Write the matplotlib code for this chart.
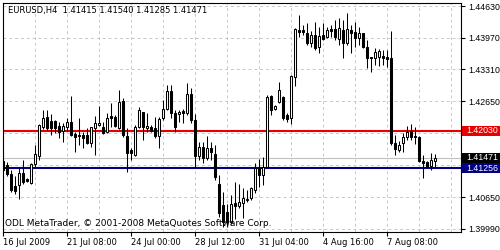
import matplotlib.pyplot as plt
from matplotlib.patches import Rectangle
import matplotlib.transforms as mtrans

# EURUSD H4 candles (open, high, low, close)
opens = [1.4140, 1.4132, 1.4113, 1.4088, 1.4091, 1.4116, 1.4103, 1.4095, 1.4134, 1.4151,
         1.4211, 1.4232, 1.4223, 1.4223, 1.4213, 1.4203, 1.4211, 1.4221, 1.4197, 1.4195,
         1.4195, 1.4195, 1.4178, 1.4209, 1.4215, 1.4211, 1.4201, 1.4234, 1.4232, 1.4209,
         1.4265, 1.4192, 1.4163, 1.4153, 1.4211, 1.4242, 1.4209, 1.4211, 1.4209, 1.4192,
         1.4230, 1.4249, 1.4286, 1.4240, 1.4238, 1.4245, 1.4240, 1.4280, 1.4226, 1.4151,
         1.4170, 1.4147, 1.4168, 1.4155, 1.4093, 1.4049, 1.4034, 1.4014, 1.4053, 1.4047,
         1.4053, 1.4059, 1.4063, 1.4080, 1.4126, 1.4111, 1.4128, 1.4276, 1.4249, 1.4263,
         1.4274, 1.4236, 1.4230, 1.4315, 1.4413, 1.4413, 1.4407, 1.4386, 1.4403, 1.4378,
         1.4403, 1.4399, 1.4415, 1.4415, 1.4395, 1.4413, 1.4386, 1.4413, 1.4409, 1.4397,
         1.4407, 1.4378, 1.4357, 1.4355, 1.4357, 1.4359, 1.4357, 1.4355, 1.4178, 1.4163,
         1.4178, 1.4190, 1.4203, 1.4192, 1.4190, 1.4140, 1.4138, 1.4130, 1.41415]
highs = [1.4159, 1.4138, 1.4122, 1.4109, 1.4128, 1.4143, 1.4105, 1.4136, 1.4174, 1.4217,
         1.4247, 1.4247, 1.4238, 1.4226, 1.4221, 1.4219, 1.4230, 1.4276, 1.4201, 1.4230,
         1.4201, 1.4209, 1.4211, 1.4234, 1.4255, 1.4221, 1.4240, 1.4261, 1.4236, 1.4288,
         1.4272, 1.4209, 1.4168, 1.4215, 1.4253, 1.4242, 1.4240, 1.4215, 1.4232, 1.4232,
         1.4267, 1.4298, 1.4298, 1.4247, 1.4247, 1.4249, 1.4303, 1.4292, 1.4238, 1.4180,
         1.4180, 1.4192, 1.4180, 1.4174, 1.4111, 1.4076, 1.4051, 1.4070, 1.4097, 1.4093,
         1.4084, 1.4080, 1.4086, 1.4136, 1.4145, 1.4149, 1.4278, 1.4278, 1.4257, 1.4305,
         1.4276, 1.4240, 1.4319, 1.4417, 1.4444, 1.4424, 1.4428, 1.4411, 1.4430, 1.4419,
         1.4428, 1.4419, 1.4424, 1.4434, 1.4438, 1.4434, 1.4448, 1.4424, 1.4430, 1.4419,
         1.4407, 1.4392, 1.4357, 1.4376, 1.4374, 1.4371, 1.4371, 1.4411, 1.4195, 1.4182,
         1.4199, 1.4213, 1.4217, 1.4211, 1.4192, 1.4153, 1.4140, 1.4157, 1.41540]
lows = [1.4118, 1.4109, 1.4076, 1.4072, 1.4061, 1.4093, 1.4097, 1.4093, 1.4128, 1.4143,
        1.4207, 1.4205, 1.4195, 1.4199, 1.4188, 1.4180, 1.4203, 1.4192, 1.4159, 1.4174,
        1.4168, 1.4176, 1.4170, 1.4153, 1.4213, 1.4197, 1.4199, 1.4211, 1.4211, 1.4207,
        1.4190, 1.4118, 1.4143, 1.4151, 1.4209, 1.4184, 1.4201, 1.4201, 1.4188, 1.4168,
        1.4226, 1.4247, 1.4230, 1.4201, 1.4221, 1.4219, 1.4236, 1.4219, 1.4128, 1.4143,
        1.4136, 1.4143, 1.4143, 1.4101, 1.4024, 1.4003, 1.4003, 1.4009, 1.4020, 1.4042,
        1.4022, 1.4055, 1.4059, 1.4074, 1.4086, 1.4091, 1.4126, 1.4236, 1.4247, 1.4261,
        1.4226, 1.4221, 1.4217, 1.4296, 1.4399, 1.4403, 1.4382, 1.4378, 1.4371, 1.4365,
        1.4392, 1.4397, 1.4399, 1.4392, 1.4382, 1.4355, 1.4382, 1.4365, 1.4378, 1.4382,
        1.4376, 1.4334, 1.4326, 1.4340, 1.4338, 1.4340, 1.4336, 1.4174, 1.4153, 1.4159,
        1.4159, 1.4184, 1.4184, 1.4176, 1.4138, 1.4105, 1.4126, 1.4122, 1.41285]
closes = [1.4122, 1.4113, 1.4080, 1.4078, 1.4116, 1.4097, 1.4099, 1.4134, 1.4155, 1.4215,
          1.4230, 1.4209, 1.4209, 1.4209, 1.4201, 1.4213, 1.4221, 1.4195, 1.4190, 1.4192,
          1.4188, 1.4178, 1.4211, 1.4219, 1.4219, 1.4199, 1.4230, 1.4230, 1.4213, 1.4263,
          1.4195, 1.4157, 1.4157, 1.4211, 1.4247, 1.4211, 1.4213, 1.4203, 1.4192, 1.4228,
          1.4249, 1.4286, 1.4240, 1.4211, 1.4242, 1.4240, 1.4280, 1.4226, 1.4151, 1.4170,
          1.4147, 1.4168, 1.4159, 1.4107, 1.4032, 1.4014, 1.4014, 1.4051, 1.4047, 1.4055,
          1.4063, 1.4061, 1.4084, 1.4126, 1.4111, 1.4128, 1.4274, 1.4247, 1.4255, 1.4288,
          1.4230, 1.4228, 1.4317, 1.4415, 1.4409, 1.4409, 1.4386, 1.4403, 1.4376, 1.4401,
          1.4395, 1.4413, 1.4411, 1.4399, 1.4417, 1.4386, 1.4415, 1.4407, 1.4397, 1.4407,
          1.4378, 1.4355, 1.4355, 1.4367, 1.4369, 1.4355, 1.4353, 1.4178, 1.4166, 1.4174,
          1.4190, 1.4201, 1.4190, 1.4190, 1.4140, 1.4136, 1.4128, 1.4143, 1.41471]

date_pos = [0, 16, 32, 48, 64, 80, 96]
date_labels = ['16 Jul 2009', '21 Jul 08:00', '24 Jul 00:00', '28 Jul 12:00',
               '31 Jul 04:00', '4 Aug 16:00', '7 Aug 08:00']
price_ticks = [1.44630, 1.43970, 1.43310, 1.42650, 1.40650, 1.39990]
grid_levels = [1.44630, 1.43970, 1.43310, 1.42650, 1.41990, 1.41330, 1.40650, 1.39990]

red_level = 1.42030
blue_level = 1.41256
bid = 1.41471

plt.rcParams['font.family'] = 'DejaVu Sans'
fig = plt.figure(figsize=(5, 2.5), dpi=100)
fig.patch.set_facecolor('white')
ax = fig.add_axes([3 / 500, 18 / 250, 458 / 500, 229 / 250])

ax.set_xlim(-0.1, 114.5)
ax.set_ylim(1.39927, 1.44693)

# grid
for g in grid_levels:
    ax.axhline(g, color='#c8c8c8', lw=0.7, ls=(0, (3, 3)), zorder=0)
for gx in range(8, 115, 8):
    ax.axvline(gx, color='#c8c8c8', lw=0.7, ls=(0, (3, 3)), zorder=0)

# level lines
ax.axhline(bid, color='#c0c0c0', lw=0.8, zorder=1)
ax.axhline(red_level, color='#e80000', lw=1.5, zorder=1)
ax.axhline(blue_level, color='#000080', lw=1.5, zorder=1)

# candles
n = len(opens)
xs = list(range(n))
ax.vlines(xs, lows, highs, color='black', lw=0.75, zorder=2)
bottoms = [min(o, c) for o, c in zip(opens, closes)]
heights = [max(abs(c - o), 0.00004) for o, c in zip(opens, closes)]
faces = ['white' if c >= o else 'black' for o, c in zip(opens, closes)]
ax.bar(xs, heights, bottom=bottoms, width=0.55, color=faces,
       edgecolor='black', linewidth=0.75, zorder=3)

# axes look
for s in ax.spines.values():
    s.set_linewidth(0.8)
    s.set_color('black')
ax.yaxis.tick_right()
ax.set_yticks(price_ticks)
ax.set_yticklabels(['%.5f' % p for p in price_ticks], family='Liberation Sans', fontsize=6.3)
ax.set_xticks(date_pos)
ax.set_xticklabels(date_labels, fontsize=6)
for lab in ax.get_xticklabels():
    lab.set_horizontalalignment('left')
ax.tick_params(axis='both', direction='out', length=3, width=0.8, pad=2)
ax.tick_params(axis='x', pad=1)

# price tags on the right
tr = mtrans.blended_transform_factory(fig.transFigure, ax.transData)
for lvl, col in [(red_level, '#e80000'), (bid, 'black'), (blue_level, '#000080')]:
    h = 0.0020
    r = Rectangle((462 / 500, lvl - h / 2), 38 / 500, h, transform=tr,
                  facecolor=col, edgecolor='none', clip_on=False)
    fig.add_artist(r)
    fig.text(466 / 500, lvl, '%.5f' % lvl, transform=tr, color='white',
             fontsize=6.3, family='Liberation Sans', va='center', ha='left')

fig.text(8 / 500, 1 - 11 / 250, 'EURUSD,H4  1.41415 1.41540 1.41285 1.41471',
         fontsize=6, va='center', ha='left')
fig.text(5 / 500, 1 - 223 / 250,
         'ODL MetaTrader, \u00a9 2001-2008 MetaQuotes Software Corp.',
         fontsize=6.5, va='center', ha='left')

plt.savefig('out.png', dpi=100, facecolor='white')
